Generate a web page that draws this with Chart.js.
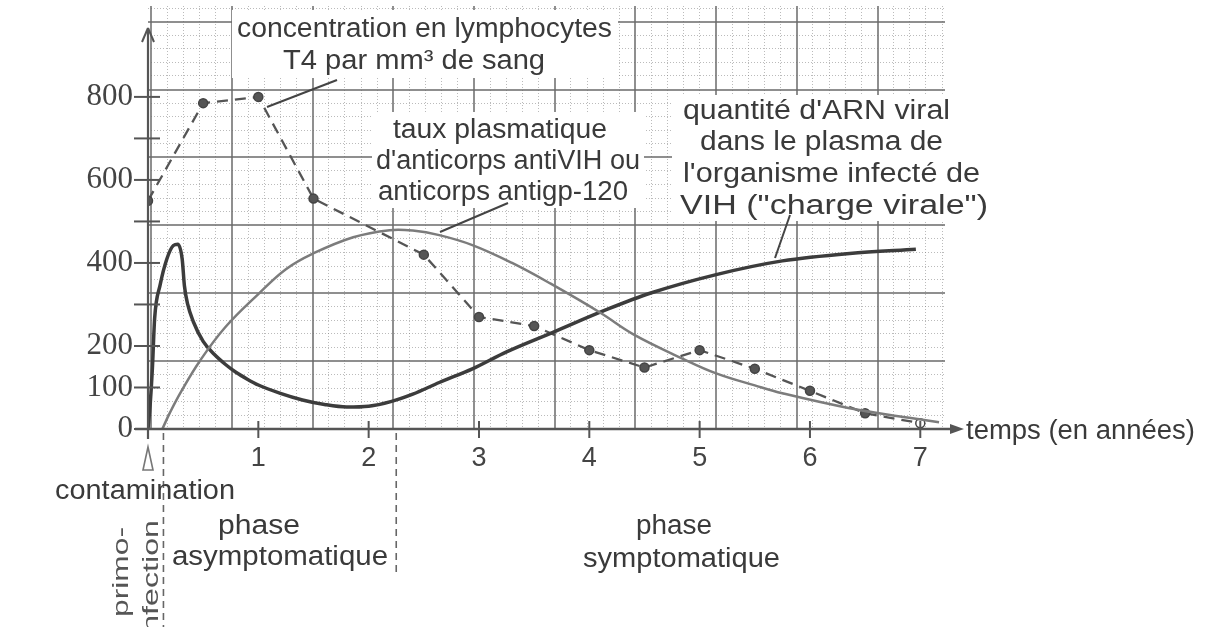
<!DOCTYPE html>
<html><head><meta charset="utf-8">
<script src="https://cdn.jsdelivr.net/npm/chart.js@4.4.1/dist/chart.umd.min.js"></script>
<style>html,body{margin:0;padding:0;background:#fff;overflow:hidden}canvas{display:block}</style>
</head><body>
<canvas id="c" width="1205" height="627"></canvas>
<script>
// ---- data ----
const yearTicks = [1, 2, 3, 4, 5, 6, 7];
const yTickValues = [0, 100, 200, 300, 400, 500, 600, 700, 800];
const yTickLabels = ['0', '100', '200', '', '400', '', '600', '', '800'];

const t4Years  = [0, 0.5, 1, 1.5, 2.5, 3, 3.5, 4, 4.5, 5, 5.5, 6, 6.5, 7];
const t4Values = [550, 785, 800, 555, 420, 270, 248, 190, 148, 190, 145, 92, 38, 14];

const antibodyYears  = [0.13, 0.2, 0.3, 0.47, 0.7, 1.0, 1.25, 1.49, 1.86, 2.19, 2.4, 2.64, 2.94, 3.3, 3.65, 4.1, 4.4, 4.85, 5.15, 5.5, 5.75, 6.36, 6.9, 7.17];
const antibodyValues = [0, 40, 90, 164, 245, 325, 385, 422, 462, 479, 478, 467, 443, 400, 350, 280, 228, 169, 134, 105, 86, 50, 27, 16];

const viralYears  = [0, 0.02, 0.04, 0.06, 0.11, 0.17, 0.23, 0.27, 0.31, 0.33, 0.36, 0.41, 0.5, 0.6, 0.7, 0.8, 0.9, 1.0, 1.2, 1.4, 1.6, 1.8, 2.0, 2.2, 2.4, 2.64, 2.94, 3.25, 3.67, 4.16, 4.55, 5.15, 5.75, 6.36, 6.96];
const viralValues = [0, 60, 147, 266, 347, 409, 442, 445, 409, 345, 300, 259, 211, 180, 156, 136, 120, 106, 86, 70, 59, 53, 55, 66, 84, 112, 145, 186, 233, 288, 327, 372, 405, 423, 433];

const pairs = (xs, ys) => xs.map((x, i) => ({ x: x, y: ys[i] }));
const range = (a, b, skip5) => { const r = []; for (let i = a; i <= b; i++) if (!skip5 || i % 5 !== 0) r.push({ value: i }); return r; };

const SANS = '"Liberation Sans", Arial, sans-serif';
const SERIF = '"Liberation Serif", "Times New Roman", serif';
const INK = '#3a3a3a';

function drawFit(ctx, text, left, right, cy, size) {
  ctx.font = size + 'px ' + SANS;
  const w = ctx.measureText(text).width;
  ctx.save();
  ctx.translate(left, cy);
  ctx.scale((right - left) / w, 1);
  ctx.textBaseline = 'middle';
  ctx.textAlign = 'left';
  ctx.fillStyle = INK;
  ctx.fillText(text, 0, 0);
  ctx.restore();
}
function drawFitV(ctx, text, cx, bottom, top, size) {
  ctx.font = size + 'px ' + SANS;
  const w = ctx.measureText(text).width;
  ctx.save();
  ctx.translate(cx, bottom);
  ctx.rotate(-Math.PI / 2);
  ctx.scale((bottom - top) / w, 1);
  ctx.textBaseline = 'middle';
  ctx.textAlign = 'left';
  ctx.fillStyle = '#555';
  ctx.fillText(text, 0, 0);
  ctx.restore();
}
function line(ctx, x1, y1, x2, y2, w, c, dash) {
  ctx.save();
  ctx.beginPath();
  ctx.setLineDash(dash || []);
  ctx.lineWidth = w; ctx.strokeStyle = c;
  ctx.moveTo(x1, y1); ctx.lineTo(x2, y2); ctx.stroke();
  ctx.restore();
}

const overlay = {
  id: 'overlay',
  beforeDatasetsDraw(chart) {
    const ctx = chart.ctx;
    ctx.save();
    ctx.fillStyle = '#fff';
    ctx.fillRect(232, 10, 386, 68);
    ctx.fillRect(372, 112, 272, 96);
    ctx.fillRect(672, 95, 322, 126);
    ctx.restore();
  },
  afterDatasetsDraw(chart) {
    const ctx = chart.ctx;
    const xs = chart.scales.x, ys = chart.scales.y;
    const x0 = xs.getPixelForValue(0), y0 = ys.getPixelForValue(0);
    const axisC = '#555';
    // y axis with arrow
    line(ctx, x0, y0 + 10, x0, 30, 2.2, axisC);
    line(ctx, x0, 28, x0 - 6, 42, 2, axisC);
    line(ctx, x0, 28, x0 + 6, 42, 2, axisC);
    // x axis with arrow
    line(ctx, 135, y0, 952, y0, 2.5, axisC);
    ctx.save();
    ctx.fillStyle = axisC;
    ctx.beginPath(); ctx.moveTo(964, y0); ctx.lineTo(950, y0 - 5); ctx.lineTo(950, y0 + 5); ctx.closePath(); ctx.fill();
    ctx.restore();
    // tick marks
    yTickValues.forEach(v => { const p = ys.getPixelForValue(v); line(ctx, 134, p, 160, p, 2, axisC); });
    yearTicks.forEach(v => { const p = xs.getPixelForValue(v); line(ctx, p, y0 - 8, p, y0 + 9, 2, axisC); });
    // separators below axis
    line(ctx, xs.getPixelForValue(0.14), y0 + 4, xs.getPixelForValue(0.14), 627, 1.6, '#666', [7, 5]);
    line(ctx, xs.getPixelForValue(2.25), y0 + 4, xs.getPixelForValue(2.25), 572, 1.6, '#666', [7, 5]);
    // contamination arrow (hollow)
    ctx.save();
    ctx.strokeStyle = '#777'; ctx.lineWidth = 1.6;
    ctx.beginPath(); ctx.moveTo(x0, 447); ctx.lineTo(x0 - 5, 470); ctx.lineTo(x0 + 5, 470); ctx.closePath(); ctx.stroke();
    ctx.restore();
    // leader lines
    line(ctx, 267, 107, 337, 80, 2, '#444');
    line(ctx, 508, 203, 440, 232, 2, '#444');
    line(ctx, 790, 215, 775, 258, 2, '#444');
    // texts
    drawFit(ctx, 'concentration en lymphocytes', 237, 612, 30, 27);
    drawFit(ctx, 'T4 par mm³ de sang', 283, 545, 62, 27);
    drawFit(ctx, 'taux plasmatique', 393, 607, 131, 27);
    drawFit(ctx, "d'anticorps antiVIH ou", 376, 640, 162, 27);
    drawFit(ctx, 'anticorps antigp-120', 378, 628, 193, 27);
    drawFit(ctx, "quantité d'ARN viral", 683, 950, 112, 27);
    drawFit(ctx, 'dans le plasma de', 700, 943, 143, 27);
    drawFit(ctx, "l'organisme infecté de", 683, 980, 175, 27);
    drawFit(ctx, 'VIH ("charge virale")', 680, 988, 207, 27);
    drawFit(ctx, 'temps (en années)', 966, 1195, 432, 27);
    drawFit(ctx, 'contamination', 55, 235, 492, 27);
    drawFit(ctx, 'phase', 218, 300, 527, 27);
    drawFit(ctx, 'asymptomatique', 172, 388, 558, 27);
    drawFit(ctx, 'phase', 636, 712, 527, 27);
    drawFit(ctx, 'symptomatique', 583, 780, 560, 27);
    drawFitV(ctx, 'primo-', 122, 617, 527, 22);
    drawFitV(ctx, 'infection', 152, 640, 520, 22);
  }
};

const minorGrid = { color: 'rgba(120,120,120,0.5)', lineWidth: 1, drawTicks: false };
const majorGrid = { color: 'rgba(105,105,105,0.75)', lineWidth: 2, drawTicks: false };

new Chart(document.getElementById('c'), {
  type: 'line',
  data: {
    datasets: [
      {
        label: "anticorps", data: pairs(antibodyYears, antibodyValues),
        borderColor: '#7c7c7c', borderWidth: 2.5, pointRadius: 0,
        tension: 0.4, fill: false
      },
      {
        label: 'charge virale', data: pairs(viralYears, viralValues),
        borderColor: '#3c3c3c', borderWidth: 3.5, pointRadius: 0,
        cubicInterpolationMode: 'monotone', fill: false
      },
      {
        label: 'T4', data: pairs(t4Years, t4Values),
        borderColor: '#555', borderWidth: 2.3, borderDash: [11, 7], tension: 0,
        pointRadius: 4.5, pointBorderWidth: 1.5, pointBorderColor: '#444',
        pointBackgroundColor: t4Years.map((v, i) => i === t4Years.length - 1 ? '#fff' : '#555'),
        fill: false
      }
    ]
  },
  options: {
    responsive: false,
    animation: false,
    events: [],
    layout: { padding: { left: 0, right: 260, top: 0, bottom: 0 } },
    plugins: { legend: { display: false }, tooltip: { enabled: false } },
    scales: {
      x: {
        type: 'linear', axis: 'x', position: 'bottom', min: 0, max: 7.224,
        afterBuildTicks(s) { s.ticks = yearTicks.map(v => ({ value: v })); },
        afterFit(s) { s.height = 198; s.paddingLeft = 0; s.paddingRight = 0; },
        grid: { display: false, drawTicks: false },
        border: { display: false },
        ticks: { color: '#444', font: { family: SANS, size: 27 }, padding: 13, maxRotation: 0, autoSkip: false }
      },
      y: {
        type: 'linear', axis: 'y', position: 'left', min: 0, max: 1019,
        afterBuildTicks(s) { s.ticks = yTickValues.map(v => ({ value: v })); },
        afterFit(s) { s.width = 148; s.paddingTop = 0; s.paddingBottom = 0; },
        grid: { display: false, drawTicks: false },
        border: { display: false },
        ticks: {
          color: '#444', font: { family: SERIF, size: 31 }, padding: 15, autoSkip: false,
          callback: (v) => { const i = yTickValues.indexOf(v); return i >= 0 ? yTickLabels[i] : ''; }
        }
      },
      gx1: {
        type: 'linear', axis: 'x', position: 'top', min: -0.2, max: 49.18,
        afterBuildTicks(s) { s.ticks = range(0, 49, true); },
        afterFit(s) { s.height = 0; s.paddingLeft = 0; s.paddingRight = 0; },
        ticks: { display: false }, border: { display: false, dash: [1, 2] }, grid: minorGrid
      },
      gy1: {
        type: 'linear', axis: 'y', position: 'right', min: 0, max: 31.15,
        afterBuildTicks(s) { s.ticks = range(0, 31, true); },
        afterFit(s) { s.width = 0; s.paddingTop = 0; s.paddingBottom = 0; },
        ticks: { display: false }, border: { display: false, dash: [1, 2] }, grid: minorGrid
      },
      gx2: {
        type: 'linear', axis: 'x', position: 'top', min: -0.2, max: 49.18,
        afterBuildTicks(s) { s.ticks = [0, 5, 10, 15, 20, 25, 30, 35, 40, 45].map(v => ({ value: v })); },
        afterFit(s) { s.height = 0; s.paddingLeft = 0; s.paddingRight = 0; },
        ticks: { display: false }, border: { display: false }, grid: majorGrid
      },
      gy2: {
        type: 'linear', axis: 'y', position: 'right', min: 0, max: 31.15,
        afterBuildTicks(s) { s.ticks = [5, 10, 15, 20, 25, 30].map(v => ({ value: v })); },
        afterFit(s) { s.width = 0; s.paddingTop = 0; s.paddingBottom = 0; },
        ticks: { display: false }, border: { display: false }, grid: majorGrid
      }
    }
  },
  plugins: [overlay]
});
</script>
</body></html>
